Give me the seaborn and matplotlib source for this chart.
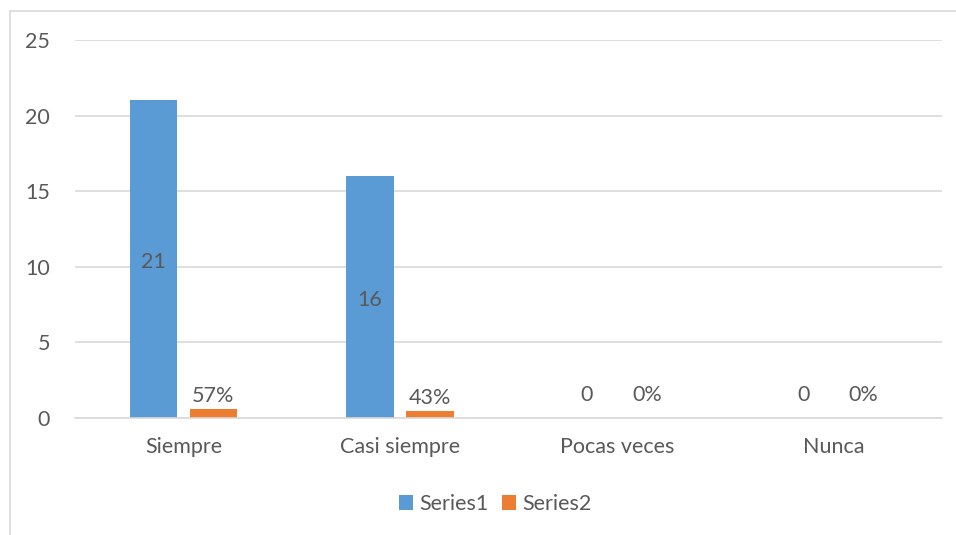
import matplotlib
matplotlib.use("Agg")
import matplotlib.pyplot as plt
import seaborn as sns
import pandas as pd
from matplotlib.lines import Line2D
from matplotlib.patches import Patch

categories = ["Siempre", "Casi siempre", "Pocas veces", "Nunca"]
series1 = [21, 16, 0, 0]
series2 = [0.57, 0.43, 0, 0]
series_names = ["Series1", "Series2"]
yticks = [0, 5, 10, 15, 20, 25]

colors = ["#5B9BD5", "#ED7D31"]
text_color = "#595959"
grid_color = "#D9D9D9"
fs = 15.5

df = pd.DataFrame({
    "categoria": categories * 2,
    "valor": series1 + series2,
    "serie": [series_names[0]] * len(categories) + [series_names[1]] * len(categories),
})

sns.set_theme(style="white")
plt.rcParams["font.family"] = ["Lato", "DejaVu Sans"]

fig = plt.figure(figsize=(9.56, 5.35), dpi=100)
ax = fig.add_axes([0.0785, 0.2187, 0.9069, 0.7065])

sns.barplot(data=df, x="categoria", y="valor", hue="serie", order=categories,
            hue_order=series_names, palette=colors, width=0.554, gap=0.205,
            saturation=1, legend=False, ax=ax, edgecolor="none")

ax.set_ylim(0, 25)
ax.set_xlim(-0.5, len(categories) - 0.5)
ax.set_yticks(yticks)
ax.set_yticklabels([str(t) for t in yticks])
ax.yaxis.grid(True, color=grid_color, linewidth=1.2)
ax.set_axisbelow(True)
for side in ["left", "right", "top"]:
    ax.spines[side].set_visible(False)
ax.spines["bottom"].set_color(grid_color)
ax.spines["bottom"].set_linewidth(1.2)
ax.tick_params(axis="both", length=0, labelsize=fs, labelcolor=text_color)
ax.tick_params(axis="x", pad=14)
ax.tick_params(axis="y", pad=18)
ax.set_xlabel("")
ax.set_ylabel("")

# Value labels: counts centred in their bars, shares above theirs
c1, c2 = ax.containers[0], ax.containers[1]
for bar, v in zip(c1, series1):
    x = bar.get_x() + bar.get_width() / 2
    if v > 0:
        ax.annotate(str(v), (x, v / 2), xytext=(0, -2), textcoords="offset points",
                    ha="center", va="center", fontsize=fs, color=text_color)
    else:
        ax.annotate(str(v), (x, 0), xytext=(0, 9), textcoords="offset points",
                    ha="center", va="bottom", fontsize=fs, color=text_color)
for bar, v in zip(c2, series2):
    x = bar.get_x() + bar.get_width() / 2
    ax.annotate(f"{v:.0%}", (x, v), xytext=(0, 2.5 if v > 0 else 9), textcoords="offset points",
                ha="center", va="bottom", fontsize=fs, color=text_color)

handles = [Patch(facecolor=c, edgecolor="none") for c in colors]
fig.legend(handles, series_names, loc="center", bbox_to_anchor=(0.518, 0.058), ncol=2,
           frameon=False, fontsize=fs, labelcolor=text_color, handlelength=0.65,
           handleheight=0.65, handletextpad=0.3, columnspacing=0.6)

# Chart area border
fig.add_artist(Line2D([10 / 956, 10 / 956], [0, 1 - 11 / 535], transform=fig.transFigure,
                      color=grid_color, linewidth=1.2))
fig.add_artist(Line2D([10 / 956, 1], [1 - 11 / 535, 1 - 11 / 535], transform=fig.transFigure,
                      color=grid_color, linewidth=1.2))

fig.savefig("out.png", dpi=100)
